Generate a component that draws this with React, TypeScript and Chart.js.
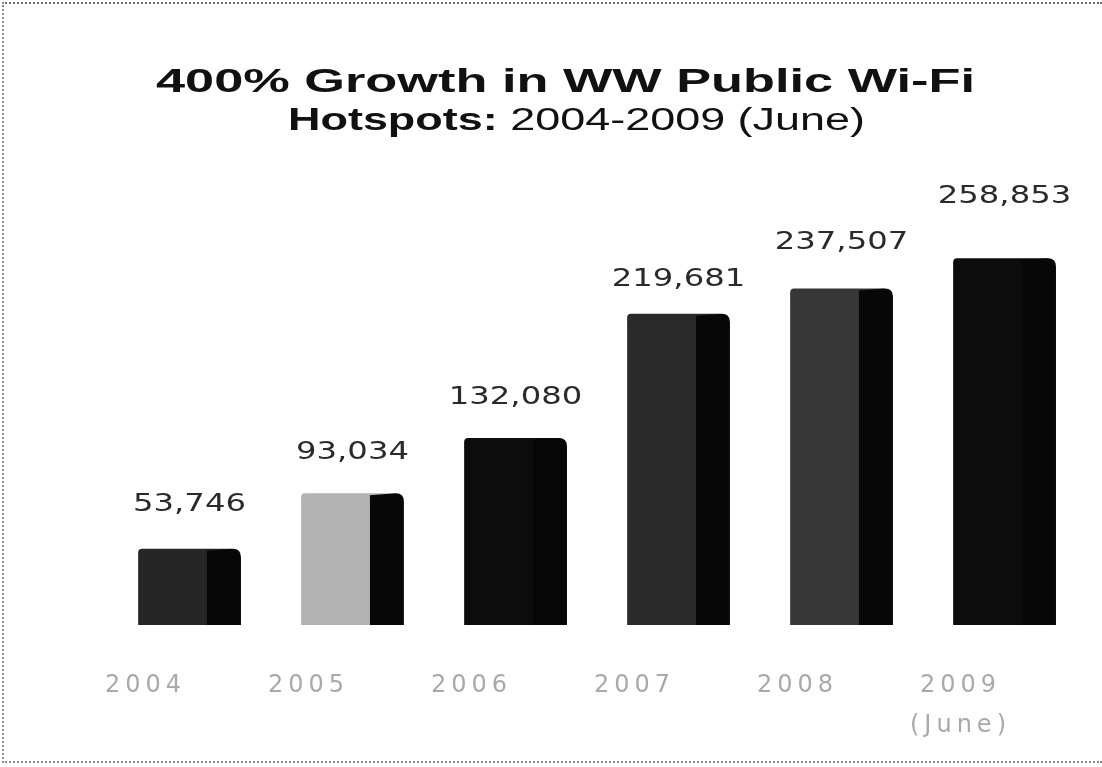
import React, { useEffect, useRef } from "react";
import { Chart, registerables } from "chart.js";

Chart.register(...registerables);

// ---- data ----
const categories: (string | string[])[] = ["2004", "2005", "2006", "2007", "2008", ["2009", "(June)"]];
const hotspots: number[] = [53746, 93034, 132080, 219681, 237507, 258853];
const valueLabels: string[] = ["53,746", "93,034", "132,080", "219,681", "237,507", "258,853"];
const titleLine1 = "400% Growth in WW Public Wi-Fi";
const titleLine2Bold = "Hotspots: ";
const titleLine2Regular = "2004-2009 (June)";

// ---- styles ----
const frontColors = ["#262626", "#b2b2b2", "#0c0c0c", "#2a2a2a", "#373737", "#0c0c0c"];
const sideColor = "#070707";
const labelGap = [44, 41, 40, 34, 46, 62];

const decorPlugin = {
  id: "decor",
  beforeDraw(chart: any) {
    chart.ctx.letterSpacing = "5px";
  },
  afterDatasetsDraw(chart: any) {
    const ctx = chart.ctx;
    const meta = chart.getDatasetMeta(0);
    ctx.save();
    ctx.letterSpacing = "0px";
    meta.data.forEach((bar: any, i: number) => {
      const { x, y, base, width } = bar.getProps(["x", "y", "base", "width"], true);
      // side face of the 3D block
      const sx = x + width * 0.17;
      const ex = x + width / 2;
      ctx.fillStyle = sideColor;
      ctx.beginPath();
      ctx.moveTo(sx, y + 2);
      ctx.lineTo(ex - 8, y);
      ctx.quadraticCurveTo(ex, y, ex, y + 8);
      ctx.lineTo(ex, base);
      ctx.lineTo(sx, base);
      ctx.closePath();
      ctx.fill();
      // value label
      ctx.save();
      ctx.translate(x, y - labelGap[i]);
      ctx.scale(1.29, 1);
      ctx.font = "25px 'DejaVu Sans'";
      ctx.fillStyle = "#2a2a2a";
      ctx.textAlign = "center";
      ctx.textBaseline = "middle";
      ctx.fillText(valueLabels[i], 0, 0);
      ctx.restore();
    });
    ctx.restore();
  },
  afterDraw(chart: any) {
    const ctx = chart.ctx;
    ctx.save();
    ctx.letterSpacing = "0px";
    ctx.fillStyle = "#111";
    ctx.textBaseline = "alphabetic";
    // line 1
    ctx.font = "bold 34px 'Liberation Sans'";
    const w1 = ctx.measureText(titleLine1).width;
    const s1 = 819 / w1;
    ctx.save();
    ctx.translate(156, 92);
    ctx.scale(s1, 1);
    ctx.textAlign = "left";
    ctx.fillText(titleLine1, 0, 0);
    ctx.restore();
    // line 2
    ctx.font = "bold 31px 'Liberation Sans'";
    const wb = ctx.measureText(titleLine2Bold).width;
    ctx.font = "31px 'Liberation Sans'";
    const wr = ctx.measureText(titleLine2Regular).width;
    const s2 = 577 / (wb + wr);
    ctx.save();
    ctx.translate(288, 130);
    ctx.scale(s2, 1);
    ctx.textAlign = "left";
    ctx.font = "bold 31px 'Liberation Sans'";
    ctx.fillText(titleLine2Bold, 0, 0);
    ctx.font = "31px 'Liberation Sans'";
    ctx.fillText(titleLine2Regular, wb, 0);
    ctx.restore();
    ctx.restore();
    ctx.letterSpacing = "0px";
  },
};

export default function App() {
  const ref = useRef<HTMLCanvasElement | null>(null);
  useEffect(() => {
    if (!ref.current) return;
    const chart = new Chart(ref.current, {
      type: "bar",
      data: {
        labels: categories as any,
        datasets: [
          {
            data: hotspots,
            backgroundColor: frontColors,
            borderWidth: 0,
            borderRadius: { topLeft: 4, topRight: 10, bottomLeft: 0, bottomRight: 0 },
            borderSkipped: "bottom",
            barPercentage: 0.63,
            categoryPercentage: 1,
          },
        ],
      },
      options: {
        responsive: false,
        animation: false,
        events: [],
        layout: { padding: { top: 200, left: 108, right: 16, bottom: 0 } },
        plugins: { legend: { display: false }, tooltip: { enabled: false }, title: { display: false } },
        scales: {
          y: { display: false, min: 0, max: 300000 },
          x: {
            afterFit: (scale: any) => {
              scale.height = 142;
            },
            grid: { display: false, drawTicks: false },
            border: { display: false },
            ticks: {
              autoSkip: false,
              maxRotation: 0,
              minRotation: 0,
              padding: 41,
              labelOffset: -44,
              color: "#a9a9a9",
              font: { family: "'DejaVu Sans'", size: 24, lineHeight: 40 / 24 },
            },
          },
        },
      },
      plugins: [decorPlugin],
    });
    return () => chart.destroy();
  }, []);
  return (
    <div style={{ position: "absolute", left: 0, top: 0, width: 1102, height: 767, background: "#fff" }}>
      <canvas ref={ref} width={1102} height={767} style={{ display: "block" }} />
      <div
        style={{
          position: "absolute",
          left: 2,
          top: 2,
          width: 1100,
          height: 761,
          boxSizing: "border-box",
          borderTop: "2px dotted #6e6e6e",
          borderLeft: "2px dotted #8a8a8a",
          borderBottom: "2px dotted #8a8a8a",
          pointerEvents: "none",
        }}
      />
    </div>
  );
}
